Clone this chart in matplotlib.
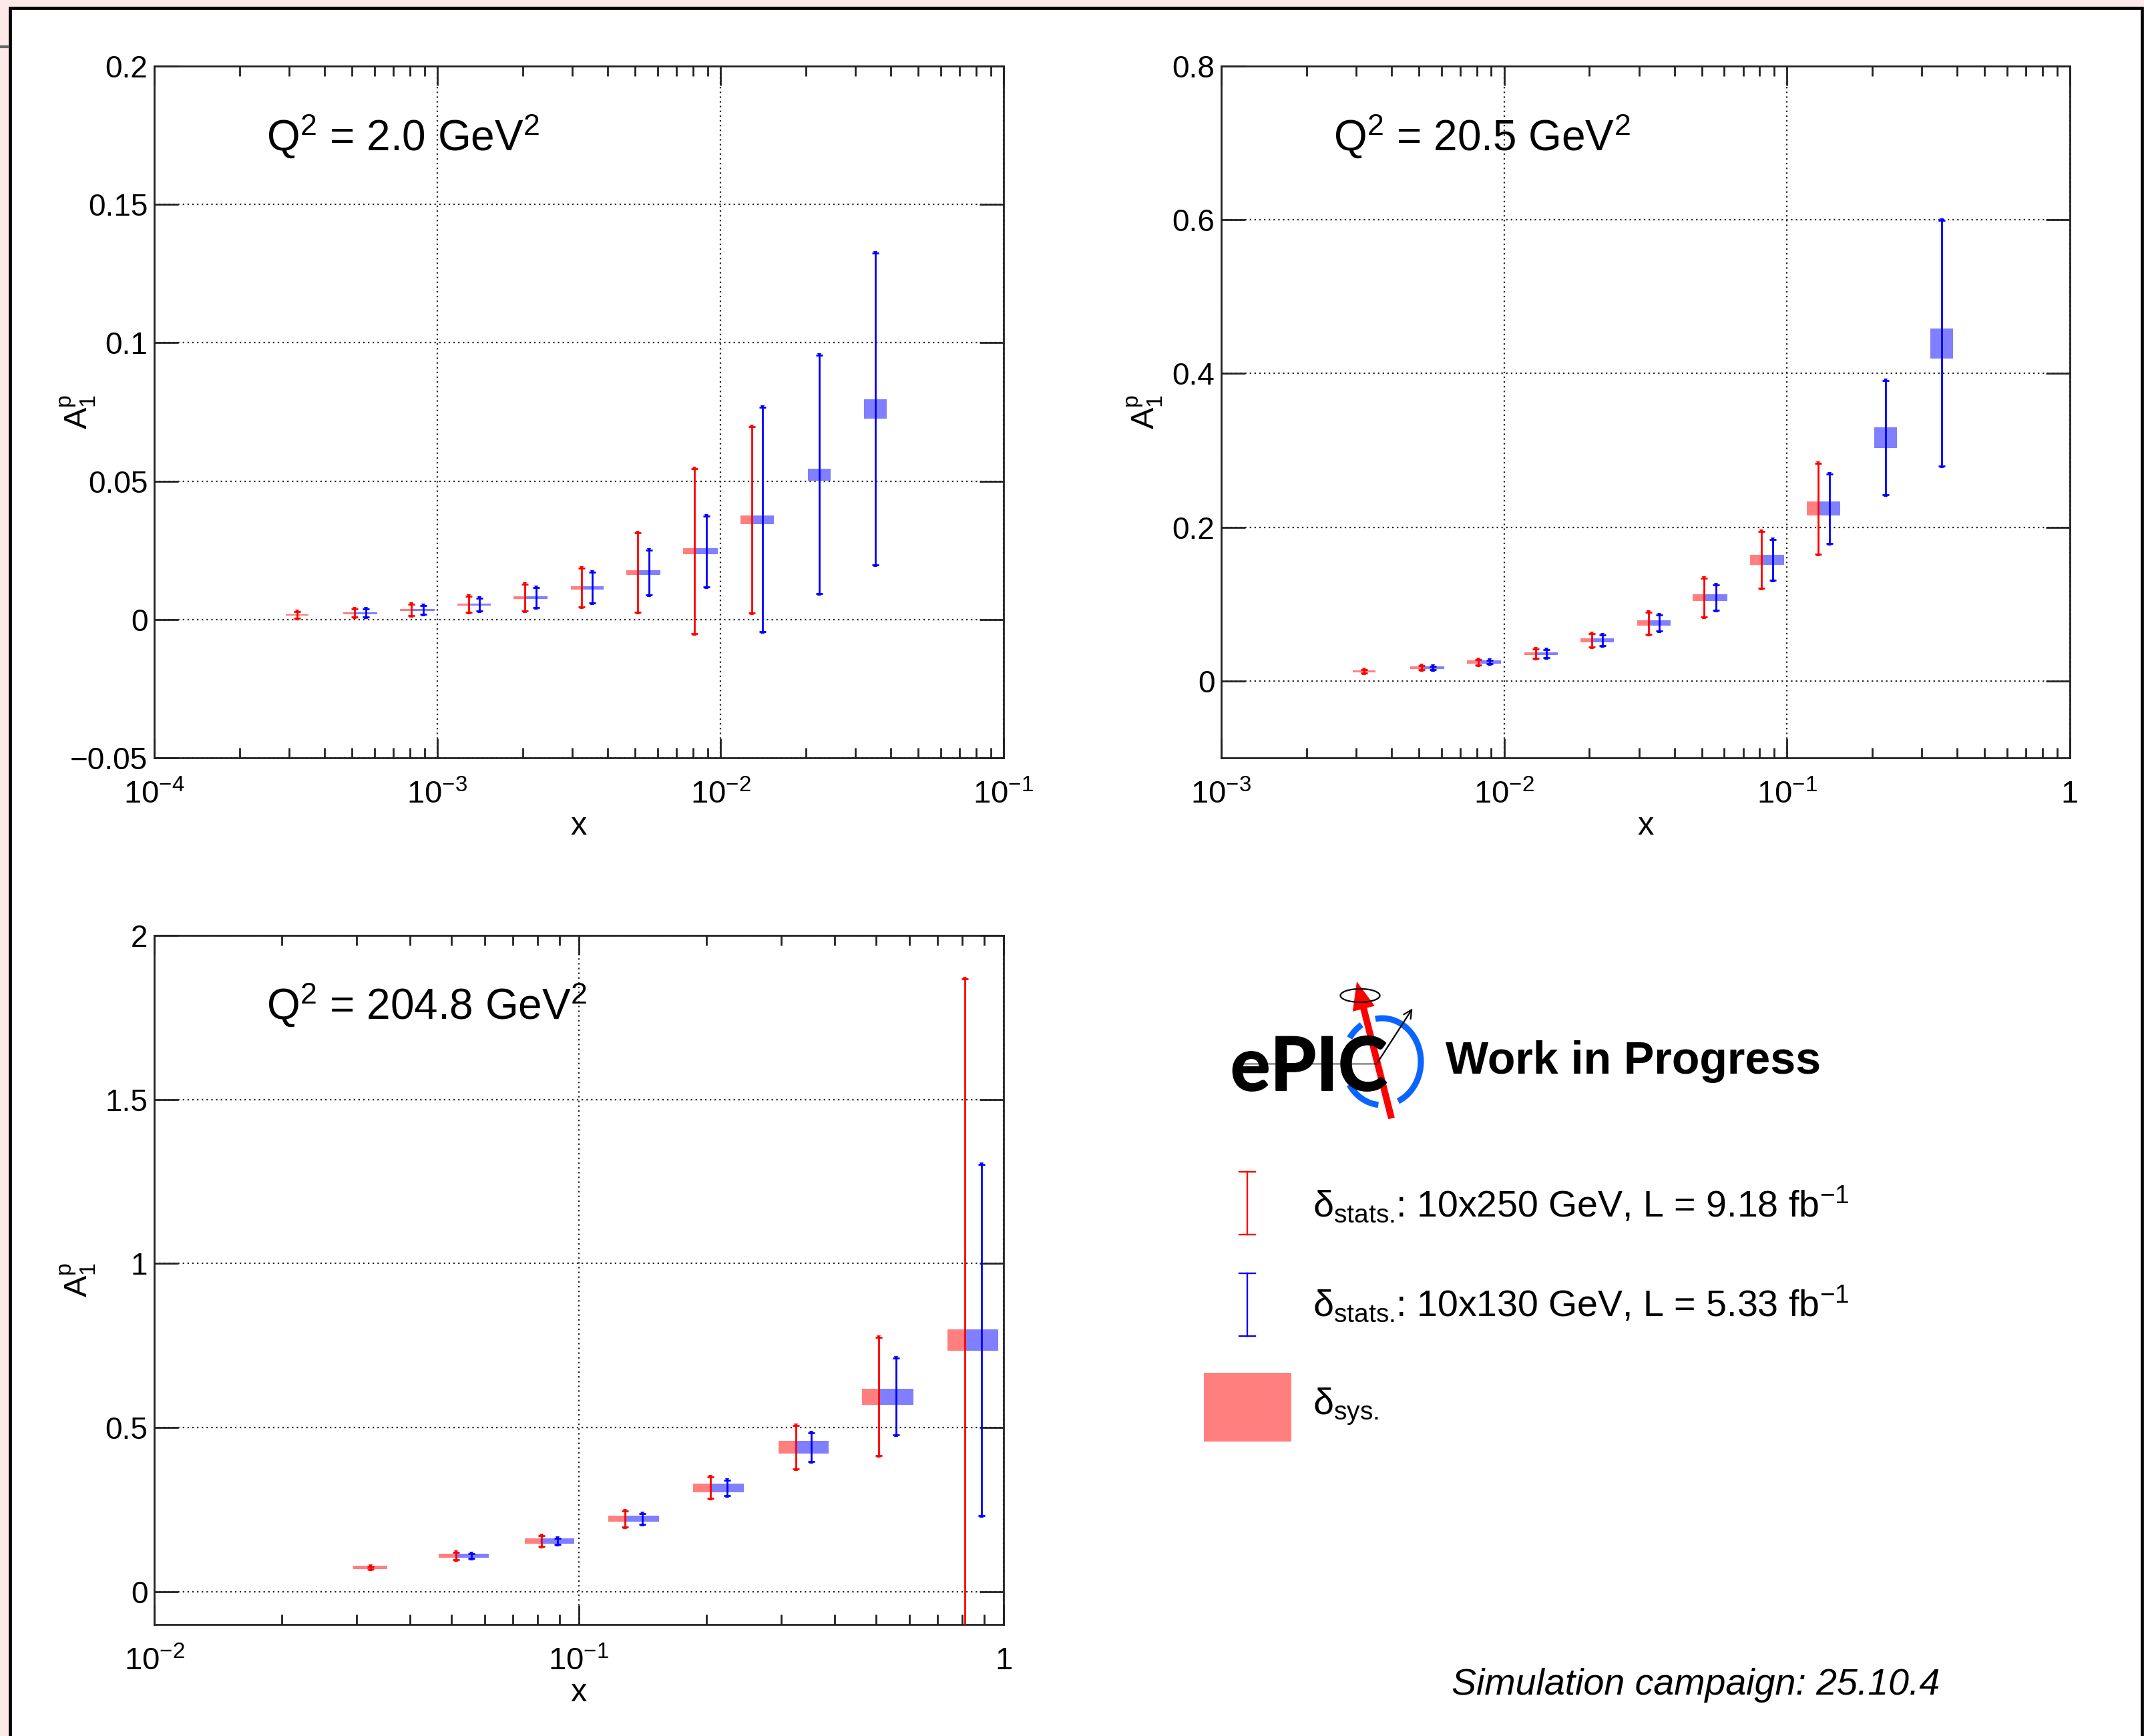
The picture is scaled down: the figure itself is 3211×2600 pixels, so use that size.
import numpy as np
import matplotlib
matplotlib.use('Agg')
import matplotlib.pyplot as plt
import matplotlib.patches as mpatches
import matplotlib.patheffects as pe
from matplotlib.ticker import FixedLocator, FuncFormatter, LogLocator, NullLocator

plt.rcParams['font.family'] = ['Liberation Sans', 'DejaVu Sans']
plt.rcParams['mathtext.fontset'] = 'custom'
plt.rcParams['mathtext.rm'] = 'Liberation Sans'
plt.rcParams['mathtext.it'] = 'Liberation Sans:italic'
plt.rcParams['mathtext.bf'] = 'Liberation Sans:bold'
plt.rcParams['mathtext.sf'] = 'Liberation Sans'

# ---------------- data ----------------
# Panel 1: Q^2 = 2.0 GeV^2
x_red_1 = [3.2e-4, 5.1e-4, 8.1e-4, 1.29e-3, 2.04e-3, 3.24e-3, 5.1e-3, 8.1e-3, 1.29e-2]
y_red_1 = [0.0016, 0.0023, 0.0035, 0.0054, 0.0080, 0.0115, 0.0170, 0.0246, 0.0361]
stat_red_1 = [0.0012, 0.0014, 0.0020, 0.0029, 0.0048, 0.0070, 0.0144, 0.0298, 0.0337]
sys_red_1 = [0.0003, 0.0003, 0.0003, 0.0004, 0.0005, 0.0006, 0.0009, 0.0011, 0.0016]
x_blue_1 = [5.6e-4, 8.9e-4, 1.41e-3, 2.23e-3, 3.53e-3, 5.6e-3, 8.9e-3, 1.41e-2, 2.23e-2, 3.53e-2]
y_blue_1 = [0.0023, 0.0035, 0.0054, 0.0080, 0.0115, 0.0170, 0.0246, 0.0361, 0.0524, 0.0761]
stat_blue_1 = [0.0014, 0.0015, 0.0023, 0.0036, 0.0056, 0.0080, 0.0128, 0.0406, 0.0430, 0.0563]
sys_blue_1 = [0.0003, 0.0003, 0.0004, 0.0005, 0.0006, 0.0009, 0.0011, 0.0016, 0.0022, 0.0034]

# Panel 2: Q^2 = 20.5 GeV^2
x_red_2 = [3.2e-3, 5.1e-3, 8.1e-3, 1.29e-2, 2.04e-2, 3.24e-2, 5.1e-2, 8.1e-2, 0.129]
y_red_2 = [0.0124, 0.0171, 0.0246, 0.0356, 0.0530, 0.0752, 0.1085, 0.1577, 0.2242]
stat_red_2 = [0.0020, 0.0025, 0.0035, 0.0058, 0.0087, 0.0145, 0.0250, 0.0370, 0.0590]
sys_red_2 = [0.0015, 0.0015, 0.0018, 0.0020, 0.0025, 0.0035, 0.0047, 0.0066, 0.0092]
x_blue_2 = [5.6e-3, 8.9e-3, 1.41e-2, 2.23e-2, 3.53e-2, 5.6e-2, 8.9e-2, 0.141, 0.223, 0.353]
y_blue_2 = [0.0171, 0.0246, 0.0356, 0.0530, 0.0752, 0.1085, 0.1577, 0.2242, 0.3167, 0.4393]
stat_blue_2 = [0.0020, 0.0025, 0.0050, 0.0068, 0.0103, 0.0165, 0.0268, 0.0450, 0.0740, 0.1600]
sys_blue_2 = [0.0015, 0.0018, 0.0020, 0.0025, 0.0035, 0.0047, 0.0066, 0.0092, 0.0137, 0.0196]

# Panel 3: Q^2 = 204.8 GeV^2
x_red_3 = [0.0323, 0.0513, 0.0817, 0.1285, 0.204, 0.324, 0.509, 0.81]
y_red_3 = [0.0734, 0.1087, 0.154, 0.222, 0.3166, 0.44, 0.594, 0.767]
stat_red_3 = [0.004, 0.011, 0.016, 0.024, 0.033, 0.066, 0.18, 1.10]
sys_red_3 = [0.005, 0.006, 0.0075, 0.009, 0.013, 0.020, 0.025, 0.032]
x_blue_3 = [0.0559, 0.0889, 0.141, 0.223, 0.353, 0.559, 0.887]
y_blue_3 = [0.1087, 0.154, 0.222, 0.3166, 0.44, 0.594, 0.767]
stat_blue_3 = [0.007, 0.0095, 0.016, 0.0235, 0.0435, 0.117, 0.535]
sys_blue_3 = [0.006, 0.0075, 0.009, 0.013, 0.020, 0.025, 0.032]

q2_labels = [r'Q$^{2}$ = 2.0 GeV$^{2}$', r'Q$^{2}$ = 20.5 GeV$^{2}$', r'Q$^{2}$ = 204.8 GeV$^{2}$']
xlims = [(1e-4, 1e-1), (1e-3, 1.0), (1e-2, 1.0)]
ylims = [(-0.05, 0.2), (-0.1, 0.8), (-0.1, 2.0)]
yticks = [[-0.05, 0, 0.05, 0.1, 0.15, 0.2], [0, 0.2, 0.4, 0.6, 0.8], [0, 0.5, 1, 1.5, 2]]

legend_labels = [r'δ$_{\mathrm{stats.}}\!$: 10x250 GeV, L = 9.18 fb$^{\mathrm{-1}}$',
                 r'δ$_{\mathrm{stats.}}\!$: 10x130 GeV, L = 5.33 fb$^{\mathrm{-1}}$',
                 r'δ$_{\mathrm{sys.}}$']

# ---------------- style ----------------
RED = '#ff0000'
BLUE = '#0000ff'
RED_BOX = '#ff7f7f'
BLUE_BOX = '#7f7fff'
BOX_HALF_DEC = 0.04
W, H = 3211, 2600

fig = plt.figure(figsize=(W / 100, H / 100), dpi=100)
fig.patch.set_facecolor('#fde9e8')
frame = mpatches.Rectangle((15 / W, -0.02), (3208 - 15) / W, (H - 12) / H + 0.02,
                           transform=fig.transFigure, facecolor='white',
                           edgecolor='black', linewidth=3.4, zorder=-10)
fig.add_artist(frame)


def px_axes(l, t, r, b):
    return fig.add_axes([l / W, 1 - b / H, (r - l) / W, (b - t) / H])


def log_fmt(v, pos):
    e = int(round(np.log10(v)))
    if e == 0:
        return '1'
    return r'$\mathrm{10^{%d}}$' % e


def y_fmt(v, pos):
    s = '%g' % v
    return s.replace('-', '\u2212')


def draw_boxes(ax, xs, ys, ss, color, z):
    f = 10 ** BOX_HALF_DEC
    for x, y, s in zip(xs, ys, ss):
        ax.add_patch(mpatches.Rectangle((x / f, y - s), x * f - x / f, 2 * s,
                                        facecolor=color, edgecolor='none', zorder=z))


def draw_stat(ax, xs, ys, es, color, z):
    xs = np.array(xs); ys = np.array(ys); es = np.array(es)
    ax.errorbar(xs, ys, yerr=es, fmt='none', ecolor=color, elinewidth=2.0,
                capsize=3.4, capthick=2.0, zorder=z)
    ax.plot(xs, ys + es, 'v', ms=5, color=color, zorder=z, mew=0)
    ax.plot(xs, ys - es, '^', ms=5, color=color, zorder=z, mew=0)


panels = [
    (px_axes(231, 99, 1503, 1135), x_red_1, y_red_1, stat_red_1, sys_red_1,
     x_blue_1, y_blue_1, stat_blue_1, sys_blue_1),
    (px_axes(1829, 99, 3100, 1135), x_red_2, y_red_2, stat_red_2, sys_red_2,
     x_blue_2, y_blue_2, stat_blue_2, sys_blue_2),
    (px_axes(231, 1401, 1503, 2433), x_red_3, y_red_3, stat_red_3, sys_red_3,
     x_blue_3, y_blue_3, stat_blue_3, sys_blue_3),
]

for i, (ax, xr, yr, er, sr, xb, yb, eb, sb) in enumerate(panels):
    ax.set_xscale('log')
    ax.set_xlim(*xlims[i])
    ax.set_ylim(*ylims[i])
    ax.xaxis.set_major_locator(LogLocator(base=10, numticks=20))
    ax.xaxis.set_minor_locator(LogLocator(base=10, subs=np.arange(2, 10), numticks=20))
    ax.xaxis.set_major_formatter(FuncFormatter(log_fmt))
    ax.xaxis.set_minor_formatter(FuncFormatter(lambda v, p: ''))
    ax.yaxis.set_major_locator(FixedLocator(yticks[i]))
    ax.yaxis.set_minor_locator(NullLocator())
    ax.yaxis.set_major_formatter(FuncFormatter(y_fmt))
    ax.tick_params(axis='x', which='major', direction='in', length=21, width=2.0,
                   top=True, bottom=True, labelsize=34, pad=24, color='#222222')
    ax.tick_params(axis='x', which='minor', direction='in', length=10.5, width=2.0,
                   top=True, bottom=True, color='#222222')
    ax.tick_params(axis='y', which='major', direction='in', length=26, width=2.0,
                   left=True, right=True, labelsize=33, pad=7, color='#222222')
    for sp in ax.spines.values():
        sp.set_linewidth(2.0)
        sp.set_color('#222222')
    ax.grid(True, which='major', linestyle=(0, (1, 2.2)), linewidth=1.6, color='#222222')
    ax.set_axisbelow(True)

    draw_boxes(ax, xr, yr, sr, RED_BOX, 2)
    draw_boxes(ax, xb, yb, sb, BLUE_BOX, 3)
    draw_stat(ax, xr, yr, er, RED, 4)
    draw_stat(ax, xb, yb, eb, BLUE, 5)

    ax.text(0.132, 0.878, q2_labels[i], transform=ax.transAxes, fontsize=46,
            va='baseline', ha='left')
    axh = ax.get_position().height * H
    ax.text(0.5, -115 / axh, 'x', transform=ax.transAxes, fontsize=35,
            ha='center', va='baseline')
    ax.text(-114 / 1272, 0.5, r'$\mathrm{A}_{\mathrm{1}}^{\mathrm{p}}$', transform=ax.transAxes,
            fontsize=35, rotation=90, ha='center', va='center')

# ---------------- overlay: logo, legend, footer ----------------
ov = fig.add_axes([0, 0, 1, 1], zorder=10)
ov.set_xlim(0, W)
ov.set_ylim(0, H)
ov.axis('off')
ov.patch.set_alpha(0)


def Y(y):
    return H - y


# stub on the left edge
ov.plot([0, 14], [Y(70), Y(70)], color='#666666', lw=3, solid_capstyle='butt')

# logo ring
ring_c = (2070, Y(1590))
for t1, t2 in [(119, 144), (-68, 99), (215, 265)]:
    ov.add_patch(mpatches.Arc(ring_c, 116, 130, theta1=t1, theta2=t2,
                              color='#0a64ff', lw=6.5))
ov.plot([1847, 2062], [Y(1593), Y(1593)], color='k', lw=1.0)
ov.text(1843, Y(1633), 'ePIC', fontsize=80, fontweight='bold', family=['Lato', 'DejaVu Sans'],
        va='baseline', ha='left', color='black',
        path_effects=[pe.withStroke(linewidth=1.5, foreground='black')])
ov.add_patch(mpatches.FancyArrow(2084, Y(1675), 2032 - 2084, Y(1470) - Y(1675), width=10,
                                 head_width=34, head_length=42, length_includes_head=True,
                                 color='#ff0000', lw=0))
ov.annotate('', xy=(2117, Y(1508)), xytext=(2062, Y(1593)),
            arrowprops=dict(arrowstyle='->', lw=1.6, color='k', mutation_scale=22))
ov.add_patch(mpatches.Ellipse((2037, Y(1491)), 59, 20, fill=False, lw=1.6, ec='k'))

ov.text(2165, Y(1608), 'Work in Progress', fontsize=49, fontweight='bold',
        va='baseline', ha='left')

# legend
for xc, (yt, yb_), col in [(1868, (1755, 1849), RED), (1868, (1907, 2001), BLUE)]:
    ov.plot([xc, xc], [Y(yt), Y(yb_)], color=col, lw=1.7)
    ov.plot([xc - 12, xc + 12], [Y(yt), Y(yt)], color=col, lw=1.7)
    ov.plot([xc - 12, xc + 12], [Y(yb_), Y(yb_)], color=col, lw=1.7)
ov.add_patch(mpatches.Rectangle((1803, Y(2159)), 131, 103, facecolor=RED_BOX, edgecolor='none'))

ov.text(1966, Y(1822), legend_labels[0], fontsize=40, va='baseline', ha='left')
ov.text(1966, Y(1971), legend_labels[1], fontsize=40, va='baseline', ha='left')
ov.text(1966, Y(2118), legend_labels[2], fontsize=40, va='baseline', ha='left')

ov.text(2905, Y(2538), 'Simulation campaign: 25.10.4', fontsize=40, style='italic',
        va='baseline', ha='right')

fig.savefig('out.png', dpi=100, facecolor=fig.get_facecolor())
